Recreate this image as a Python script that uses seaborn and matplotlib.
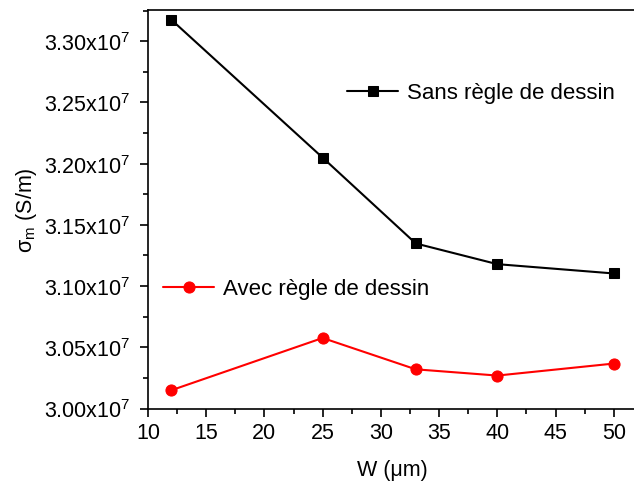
import matplotlib
matplotlib.use("Agg")
import matplotlib.pyplot as plt
import seaborn as sns
import pandas as pd
from matplotlib.ticker import MultipleLocator, FuncFormatter

# Conductivity (in units of 1e7 S/m) versus line width W (um)
width_um = [12, 25, 33, 40, 50]
sigma_sans = [3.3176, 3.2049, 3.1348, 3.1179, 3.1103]
sigma_avec = [3.0149, 3.0576, 3.0320, 3.0269, 3.0367]
label_sans = "Sans règle de dessin"
label_avec = "Avec règle de dessin"

sns.set_style("ticks")
plt.rcParams["font.family"] = ["Liberation Sans", "DejaVu Sans"]
plt.rcParams["mathtext.fontset"] = "custom"
plt.rcParams["mathtext.rm"] = "Liberation Sans"
plt.rcParams["mathtext.it"] = "Liberation Sans:italic"
for key in ("text.color", "axes.labelcolor", "xtick.color", "ytick.color"):
    plt.rcParams[key] = "black"

df = pd.concat([
    pd.DataFrame({"W": width_um, "sigma": sigma_sans, "serie": label_sans}),
    pd.DataFrame({"W": width_um, "sigma": sigma_avec, "serie": label_avec}),
])

fig = plt.figure(figsize=(6.34, 4.85), dpi=100)
ax = fig.add_axes([148 / 634, 1 - 409.5 / 485, 489 / 634, 398.5 / 485])

sns.lineplot(data=df[df.serie == label_sans], x="W", y="sigma", ax=ax,
             color="black", marker="s", markersize=6.5, linewidth=1.5,
             markeredgecolor="black", label=label_sans)
sns.lineplot(data=df[df.serie == label_avec], x="W", y="sigma", ax=ax,
             color="#ff0000", marker="o", markersize=8, linewidth=1.5,
             markeredgecolor="#ff0000", label=label_avec)

ax.set_xlim(10, 52)
ax.set_ylim(3.00, 3.3255)
ax.xaxis.set_major_locator(MultipleLocator(5))
ax.xaxis.set_minor_locator(MultipleLocator(2.5))
ax.yaxis.set_major_locator(MultipleLocator(0.05))
ax.yaxis.set_minor_locator(MultipleLocator(0.025))
ax.yaxis.set_major_formatter(FuncFormatter(lambda v, p: f"{v:.2f}x10$^7$"))

ax.tick_params(axis="both", which="major", direction="out", length=6,
               width=1.2, labelsize=15.5, colors="black")
ax.tick_params(axis="x", which="major", pad=4)
ax.tick_params(axis="y", which="major", pad=7)
ax.tick_params(axis="both", which="minor", direction="out", length=3.5,
               width=1.2)
for s in ax.spines.values():
    s.set_linewidth(1.2)
    s.set_color("black")

ax.set_xlabel("W (μm)", fontsize=15.5, labelpad=11)
ax.set_ylabel("σ$_\\mathrm{m}$ (S/m)", fontsize=15.5, labelpad=3)

handles, labels = ax.get_legend_handles_labels()
ax.get_legend().remove()
leg1 = ax.legend([handles[0]], [labels[0]], loc="center left",
                 bbox_to_anchor=(0.407, 0.792), frameon=False, fontsize=16,
                 handlelength=2.3, handletextpad=0.4, borderpad=0,
                 borderaxespad=0, labelcolor="black")
ax.add_artist(leg1)
ax.legend([handles[1]], [labels[1]], loc="center left",
          bbox_to_anchor=(0.031, 0.300), frameon=False, fontsize=16,
          handlelength=2.3, handletextpad=0.4, borderpad=0, borderaxespad=0,
          labelcolor="black")

fig.savefig("out.png", dpi=100)
